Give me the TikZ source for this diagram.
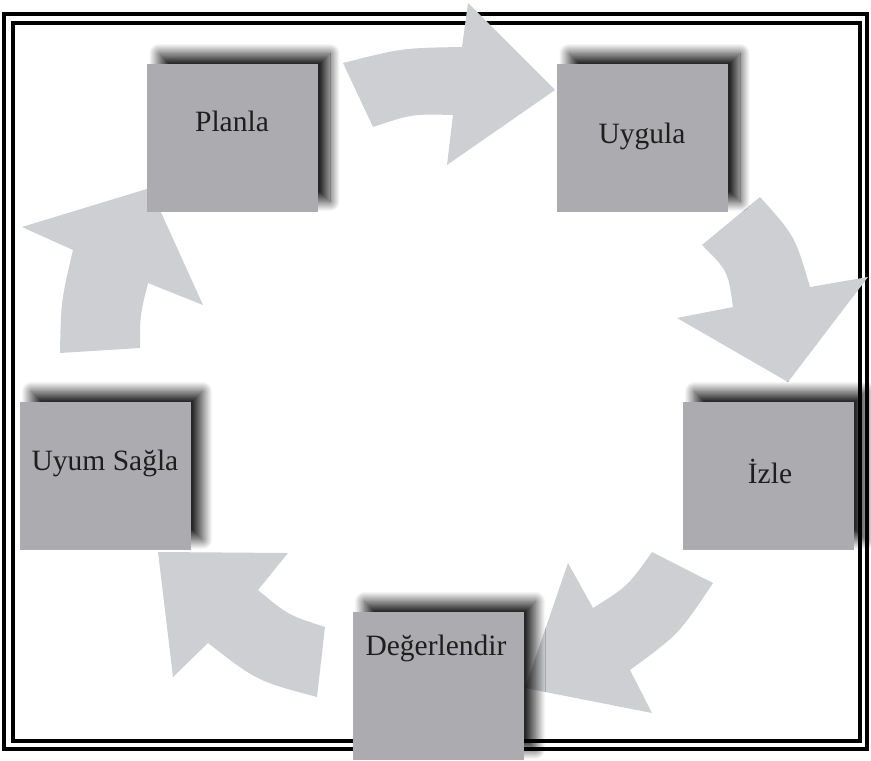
\documentclass[tikz,border=0pt]{standalone}
\usepackage{fontspec}
\setmainfont{Liberation Serif}
\usetikzlibrary{shadows.blur}
\definecolor{boxgray}{RGB}{172,172,176}
\definecolor{arrowgray}{RGB}{206,207,210}
\definecolor{textdark}{RGB}{30,30,30}

\begin{document}
\begin{tikzpicture}[x=1pt,y=-1pt,
    box/.style={fill=boxgray, minimum width=171pt, minimum height=148pt, inner sep=0pt,
        blur shadow={shadow xshift=12pt, shadow yshift=10pt, shadow blur radius=10pt,
            shadow blur steps=20, shadow opacity=85}},
    cyclearrow/.style={fill=arrowgray},
    lbl/.style={anchor=base, text=textdark, font=\fontsize{29.5}{34}\selectfont},
    frameline/.style={line width=3.2pt, black}]
    \useasboundingbox (0,0) rectangle (871,761);

    % double frame
    \draw[frameline] (4,14) rectangle (867,749);
    \draw[frameline] (13,23) rectangle (860,741);

    % curved arrows of the cycle
    \fill[cyclearrow] (343,63) .. controls (402,48) .. (462,47) -- (468,3) -- (555,90)
        -- (447,165) -- (453,115) .. controls (412,114) .. (373,127) -- cycle;
    \fill[cyclearrow] (760,197) .. controls (795,236) .. (810,287) -- (868,277) -- (788,382)
        -- (677,318) -- (733,307) .. controls (728,271) .. (702,245) -- cycle;
    \fill[cyclearrow] (713,583) .. controls (679,634) .. (630,670) -- (652,713) -- (525,688)
        -- (568,563) -- (593,608) .. controls (628,586) .. (652,552) -- cycle;
    \fill[cyclearrow] (317,697) .. controls (257,681) .. (208,643) -- (173,677) -- (158,552)
        -- (288,553) -- (258,590) .. controls (288,615) .. (325,627) -- cycle;
    \fill[cyclearrow] (60,353) .. controls (61,301) .. (73,250) -- (22,227) -- (150,188)
        -- (203,305) -- (148,283) .. controls (140,315) .. (140,348) -- cycle;

    % steps
    \node[box] (planla) at (232.5,137.5) {};
    \node[box] (uygula) at (642.5,137.5) {};
    \node[box] (izle) at (768,475.5) {};
    \node[box] (degerlendir) at (438,685.5) {};
    \node[box] (uyum) at (105,475.5) {};

    \node[lbl] (planlaText) at (232,131) {Planla};
    \node[lbl] (uygulaText) at (642,143) {Uygula};
    \node[lbl] (izleText) at (770,483) {İzle};
    \node[lbl] (degerlendirText) at (436,655) {Değerlendir};
    \node[lbl] (uyumText) at (105,470) {Uyum Sağla};
\end{tikzpicture}
\end{document}
